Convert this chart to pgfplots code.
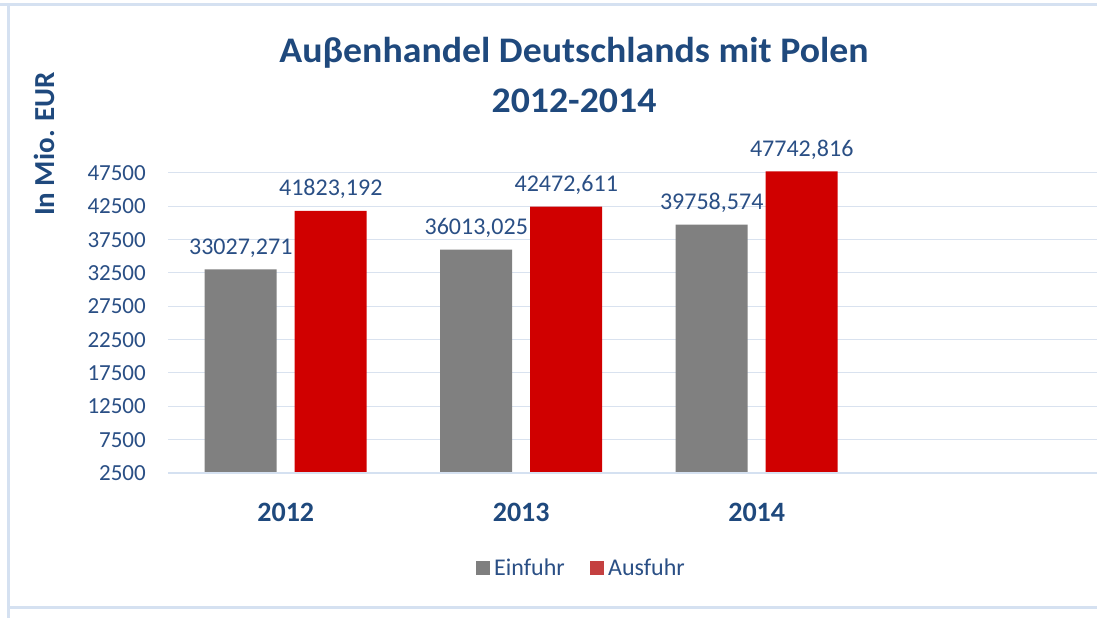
\documentclass[border=0pt]{standalone}
\usepackage{fontspec}
\setmainfont{Carlito}
\usepackage{pgfplots}
\pgfplotsset{compat=1.18}
\usepackage{pgfplotstable}
\definecolor{txt}{HTML}{1F497D}
\definecolor{lbl}{HTML}{2A4F85}
\definecolor{gridc}{HTML}{D9E2EF}
\definecolor{framec}{HTML}{D5E1F1}
\definecolor{bgray}{HTML}{808080}
\definecolor{bred}{HTML}{D00000}
\definecolor{lgray}{HTML}{7F7F7F}
\definecolor{lred}{HTML}{C44040}

\pgfplotstableread{
x y label
0 33027.271 33027,271
1 36013.025 36013,025
2 39758.574 39758,574
}\einfuhr
\pgfplotstableread{
x y label
0 41823.192 41823,192
1 42472.611 42472,611
2 47742.816 47742,816
}\ausfuhr

\begin{document}
\begin{tikzpicture}
\useasboundingbox (0pt,0pt) rectangle (1097pt,618pt);
\fill[white] (0pt,0pt) rectangle (1097pt,618pt);
\draw[framec, line width=3pt] (0pt,613pt) -- (1097pt,613pt);
\draw[framec, line width=3pt] (8pt,613pt) -- (8pt,0pt);
\draw[framec, line width=3pt] (8pt,10pt) -- (1097pt,10pt);
\begin{axis}[
  at={(168pt,145pt)}, anchor=south west,
  scale only axis, width=929pt, height=333.33pt,
  xmin=-0.5, xmax=3.445, ymin=2500, ymax=52500,
  clip=false,
  axis line style={draw=none},
  major tick length=0pt,
  scaled y ticks=false,
  ymajorgrids, grid style={gridc, line width=1pt},
  ytick={2500,7500,...,47500},
  xtick={0,1,2}, xticklabels={2012,2013,2014},
  /pgf/number format/assume math mode=true,
  /pgf/number format/1000 sep={},
  yticklabel={\pgfmathprintnumber[fixed,precision=0,1000 sep={}]{\tick}},
  xticklabel style={font=\fontsize{28}{30}\selectfont\bfseries, text=txt, anchor=base, yshift=-49pt},
  yticklabel style={font=\fontsize{23}{26}\selectfont, text=lbl, anchor=east, xshift=-22pt, inner sep=0pt},
  legend columns=2,
  legend style={at={(0.4465,-0.285)}, anchor=center, draw=none, fill=none,
    font=\fontsize{24}{26}\selectfont, text=lbl,
    /tikz/every even column/.append style={column sep=20pt},
    nodes={inner xsep=5pt}},
]
\addplot[ybar, bar width=72pt, bar shift=-45pt, fill=bgray, draw=none, forget plot,
  nodes near coords, point meta=explicit symbolic,
  nodes near coords style={font=\fontsize{24}{26}\selectfont, text=lbl, anchor=base, xshift=-45pt, yshift=15pt, inner sep=0pt}]
  table[x=x, y=y, meta=label]{\einfuhr};
\addplot[ybar, bar width=72pt, bar shift=45pt, fill=bred, draw=none, forget plot,
  nodes near coords, point meta=explicit symbolic,
  nodes near coords style={font=\fontsize{24}{26}\selectfont, text=lbl, anchor=base, xshift=45pt, yshift=15pt, inner sep=0pt}]
  table[x=x, y=y, meta=label]{\ausfuhr};
\draw[framec, line width=2pt] (rel axis cs:0,0) -- (rel axis cs:1,0);
\addlegendimage{legend image code/.code={\fill[lgray] (0pt,-6.5pt) rectangle (13pt,6.5pt);}}
\addlegendentry{Einfuhr}
\addlegendimage{legend image code/.code={\fill[lred] (0pt,-6.5pt) rectangle (13pt,6.5pt);}}
\addlegendentry{Ausfuhr}
\end{axis}
\node[rotate=90, font=\fontsize{29}{32}\selectfont\bfseries, text=txt] at (44pt,474pt) {In Mio. EUR};
\node[font=\fontsize{36}{40}\selectfont\bfseries, text=txt, anchor=base] at (574pt,555pt) {\scalebox{1.05}[1]{Auβenhandel Deutschlands mit Polen}};
\node[font=\fontsize{36}{40}\selectfont\bfseries, text=txt, anchor=base] at (574pt,505pt) {\scalebox{1.05}[1]{2012-2014}};
\end{tikzpicture}
\end{document}
